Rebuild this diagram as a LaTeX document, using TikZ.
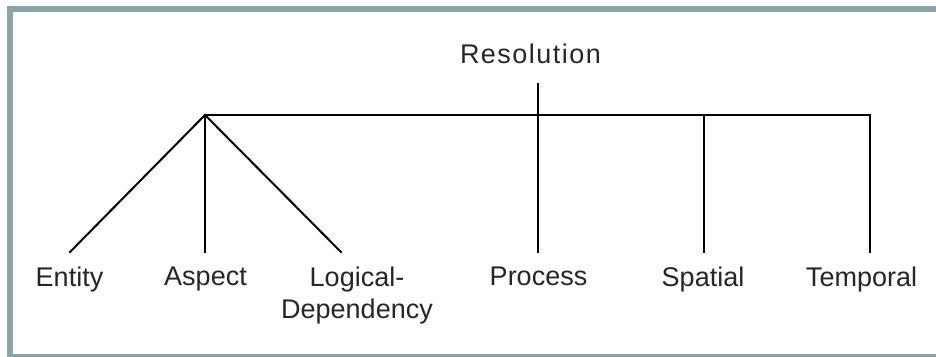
\documentclass[tikz,border=0pt]{standalone}
\usepackage{fontspec}
\setmainfont{Liberation Sans}
\usepackage{tikz}
\usetikzlibrary{positioning}
\definecolor{frameteal}{HTML}{88A6A6}
\definecolor{labelgray}{HTML}{262626}

\begin{document}
\begin{tikzpicture}[x=1pt, y=-1pt,
    branch/.style={line width=2pt, line cap=rect},
    lbl/.style={inner sep=0pt, text=labelgray, align=center,
        font=\fontsize{27}{32}\selectfont}]
    \useasboundingbox (0,0) rectangle (936,356);
    \draw[frameteal, line width=6pt] (10,9) rectangle (950,357);

    \node[lbl, anchor=base] at (530.5,63) (res) {\addfontfeature{LetterSpace=5.5}Resolution};

    \coordinate (hub)  at (205,115);
    \coordinate (rtop) at (538,84);
    \coordinate (rend) at (870,115);
    \coordinate (xent) at (70,252);
    \coordinate (xasp) at (205,252);
    \coordinate (xlog) at (341,252);
    \coordinate (xpro) at (538,252);
    \coordinate (xspa) at (704,252);
    \coordinate (xtem) at (870,252);

    \node[lbl, anchor=north] at (69.5,267) (ent) {Entity};
    \node[lbl, anchor=north] at (205.5,267) (asp) {Aspect};
    \node[lbl, anchor=north] at (357,267) (log) {Logical-\\Dependency};
    \node[lbl, anchor=north] at (538.5,267) (pro) {Process};
    \node[lbl, anchor=north] at (703,267) (spa) {Spatial};
    \node[lbl, anchor=north] at (861.5,267) (tem) {Temporal};

    \draw[branch] (hub) -- (xent);
    \draw[branch] (hub) -- (xasp);
    \draw[branch] (hub) -- (xlog);
    \draw[branch] (hub) -- (rend) -- (xtem);
    \draw[branch] (rtop) -- (xpro);
    \draw[branch] (xspa |- hub) -- (xspa);
\end{tikzpicture}
\end{document}
